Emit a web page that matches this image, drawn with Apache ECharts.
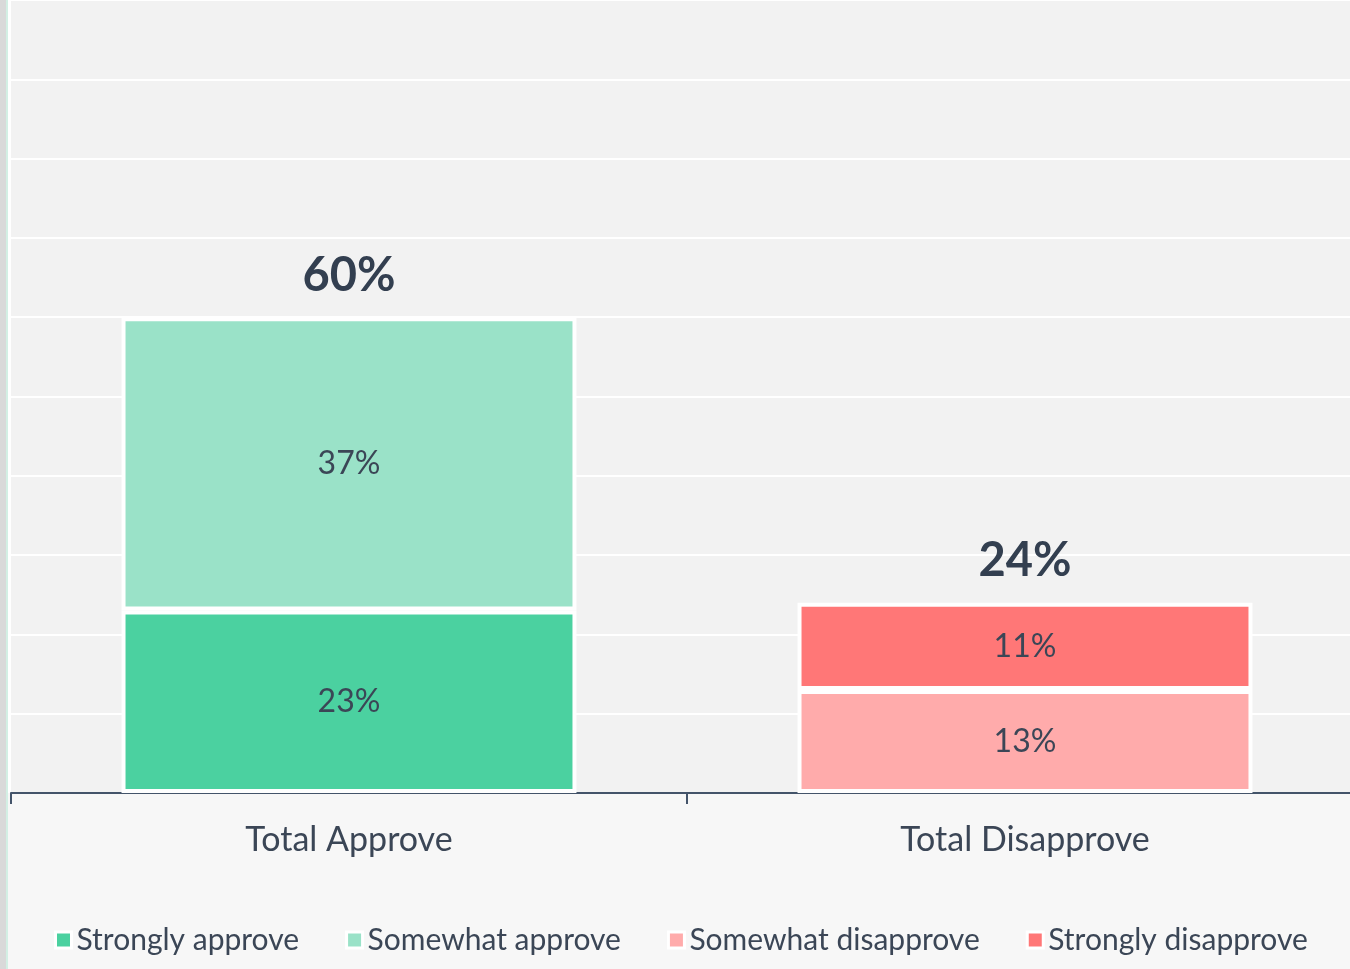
<!DOCTYPE html>
<html>
<head>
<meta charset="utf-8">
<script src="https://cdn.jsdelivr.net/npm/echarts@6/dist/echarts.min.js"></script>
<style>
  html, body { margin: 0; padding: 0; background: #f7f7f7; }
  #chartmain { width: 1350px; height: 969px; }
</style>
</head>
<body>
<div id="chartmain"></div>
<script>
// 数据
var categories = ['Total Approve', 'Total Disapprove'];
var stronglyApprove = [23, '-'];
var somewhatApprove = [37, '-'];
var somewhatDisapprove = ['-', 13];
var stronglyDisapprove = ['-', 11];
var totals = [60, 24];

var textColor = '#3b4656';
var fontName = 'Lato';
var barW = '67.3%';

function segment(name, data, color) {
    return {
        name: name,
        type: 'bar',
        stack: 'total',
        barWidth: barW,
        data: data,
        itemStyle: { color: color, borderColor: '#ffffff', borderWidth: 4 },
        label: {
            show: true,
            position: 'inside',
            formatter: '{c}%',
            color: textColor,
            fontSize: 32,
            fontFamily: fontName
        }
    };
}

window.onload = function () {
    var option = {
        backgroundColor: '#f7f7f7',
        animation: false,
        textStyle: { fontFamily: fontName },
        grid: {
            left: 11,
            right: -13,
            top: 0,
            bottom: 176,
            outerBoundsMode: 'none',
            containLabel: false,
            show: true,
            backgroundColor: '#f2f2f2',
            borderWidth: 0
        },
        legend: {
            data: ['Strongly approve', 'Somewhat approve', 'Somewhat disapprove', 'Strongly disapprove'],
            bottom: 9,
            left: 49,
            itemWidth: 16,
            itemHeight: 16,
            itemGap: 46,
            icon: 'rect',
            itemStyle: { borderColor: '#ffffff', borderWidth: 3 },
            textStyle: { color: textColor, fontSize: 30, fontFamily: fontName }
        },
        xAxis: {
            type: 'category',
            data: categories,
            axisLine: { lineStyle: { color: '#44546a', width: 2 } },
            axisTick: { show: true, length: 11, lineStyle: { color: '#44546a', width: 2 } },
            axisLabel: { color: textColor, fontSize: 34, margin: 30, fontFamily: fontName }
        },
        yAxis: {
            type: 'value',
            min: 0,
            max: 100,
            interval: 10,
            axisLabel: { show: false },
            axisLine: { show: false },
            axisTick: { show: false },
            splitLine: { lineStyle: { color: '#ffffff', width: 2 } }
        },
        graphic: [
            { type: 'rect', left: 0, top: 0, shape: { width: 6, height: 969 }, style: { fill: '#d9d9d9' }, silent: true },
            { type: 'rect', left: 6, top: 0, shape: { width: 2, height: 969 }, style: { fill: '#d3efe4' }, silent: true },
            { type: 'rect', left: 8, top: 0, shape: { width: 3, height: 793 }, style: { fill: '#ffffff' }, silent: true }
        ],
        series: [
            segment('Strongly approve', stronglyApprove, '#4bd1a0'),
            segment('Somewhat approve', somewhatApprove, '#9ae2c8'),
            segment('Somewhat disapprove', somewhatDisapprove, '#ffabab'),
            segment('Strongly disapprove', stronglyDisapprove, '#ff7777'),
            {
                name: 'Total',
                type: 'bar',
                barWidth: barW,
                barGap: '-100%',
                data: totals,
                silent: true,
                z: 1,
                itemStyle: { color: 'rgba(0,0,0,0)' },
                label: {
                    show: true,
                    position: 'top',
                    distance: 18,
                    formatter: '{c}%',
                    color: '#333f50',
                    fontSize: 47,
                    fontWeight: 'bold',
                    fontFamily: fontName
                }
            }
        ]
    };
    var myChart = echarts.init(document.getElementById('chartmain'));
    myChart.setOption(option);
};
</script>
</body>
</html>
